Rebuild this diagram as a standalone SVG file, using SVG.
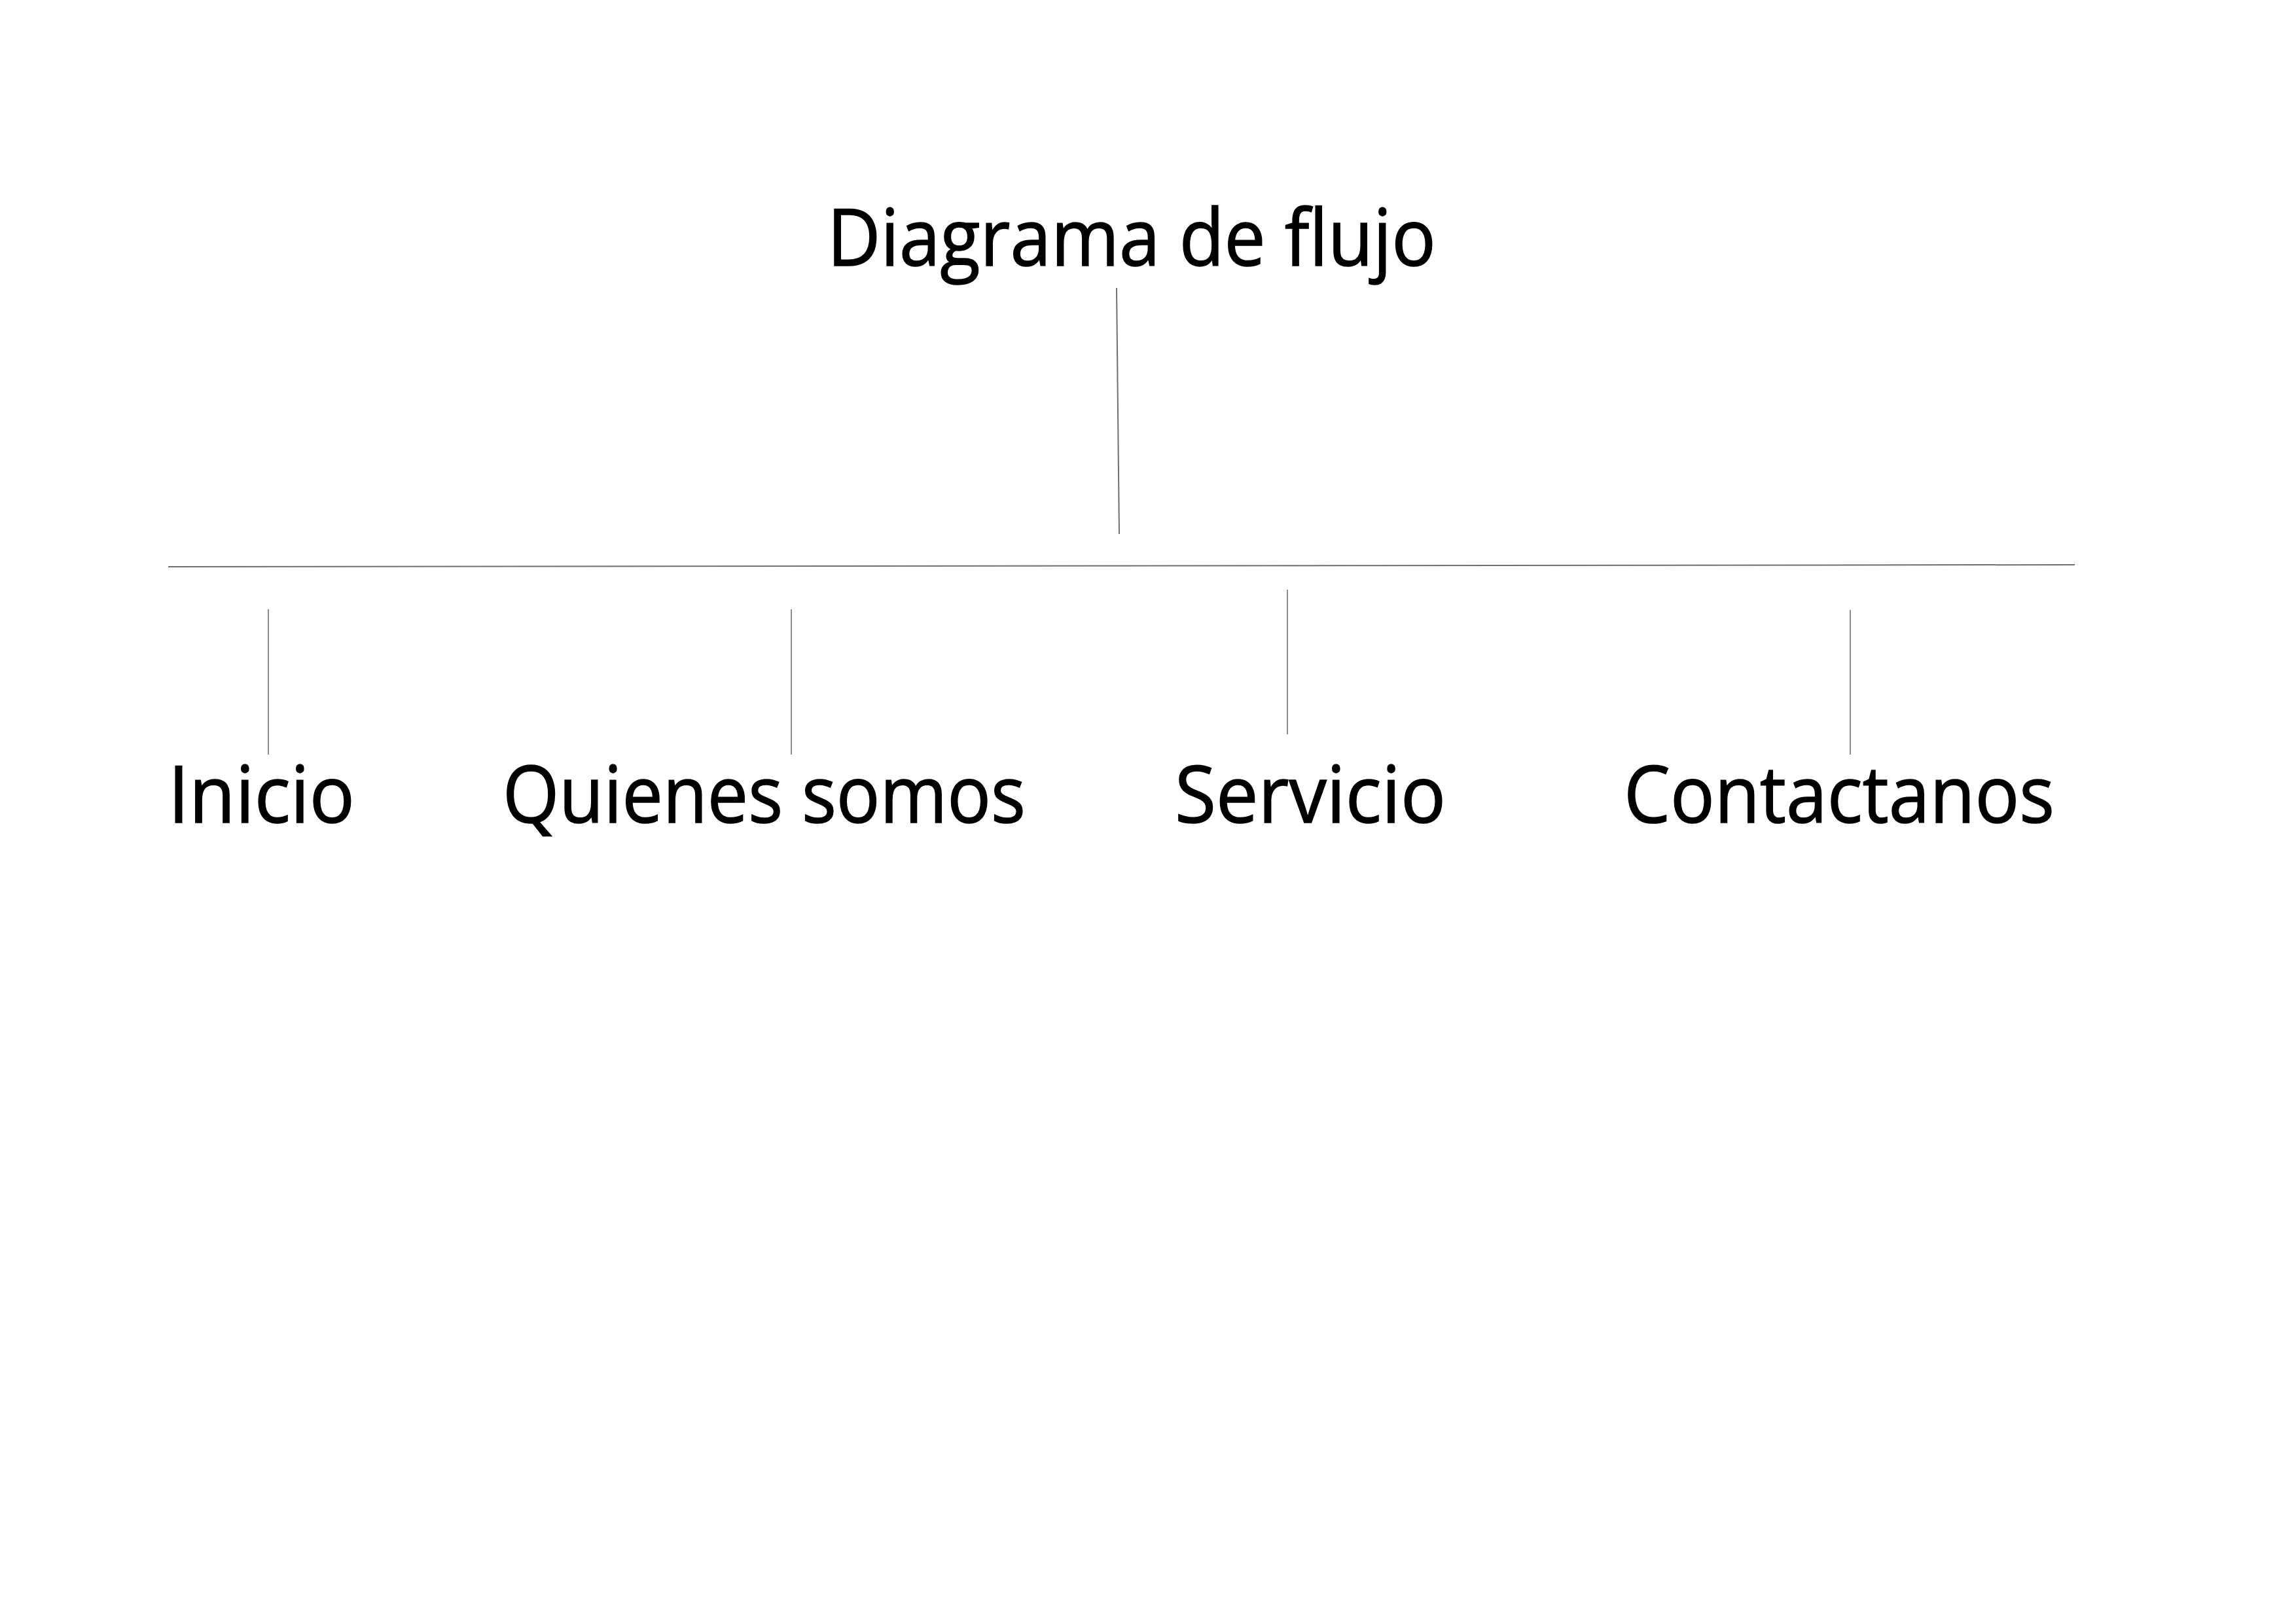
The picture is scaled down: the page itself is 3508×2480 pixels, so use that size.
<svg xmlns="http://www.w3.org/2000/svg" width="3508" height="2480" viewBox="0 0 3508 2480">
<style>
.t{font-family:"Open Sans","Noto Sans","Liberation Sans",sans-serif;font-size:120px;fill:#000;stroke:#000;stroke-width:1.5;}
.c{stroke:#6e6e6e;stroke-width:2;fill:none;}
.b{stroke:#707070;stroke-width:1.6;fill:none;}
</style>
<rect width="3508" height="2480" fill="#fff"/>
<g id="title"><text class="t" x="1264" y="406" textLength="930" lengthAdjust="spacingAndGlyphs">Diagrama de flujo</text></g>
<g id="inicio"><text class="t" x="257" y="1257" textLength="285" lengthAdjust="spacingAndGlyphs">Inicio</text></g>
<g id="quienes"><text class="t" x="768" y="1257" textLength="799" lengthAdjust="spacingAndGlyphs">Quienes somos</text></g>
<g id="servicio"><text class="t" x="1795" y="1257" textLength="414" lengthAdjust="spacingAndGlyphs">Servicio</text></g>
<g id="contactanos"><text class="t" x="2481" y="1257" textLength="658" lengthAdjust="spacingAndGlyphs">Contactanos</text></g>
<g id="connectors">
<line class="c" x1="1706" y1="440" x2="1710" y2="816"/>
<line class="c" x1="257" y1="866" x2="3170" y2="863"/>
<line class="b" x1="410" y1="931" x2="410" y2="1153"/>
<line class="b" x1="1209" y1="931" x2="1209" y2="1153"/>
<line class="b" x1="1967" y1="901" x2="1967" y2="1122"/>
<line class="b" x1="2827" y1="932" x2="2827" y2="1153"/>
</g>
</svg>
